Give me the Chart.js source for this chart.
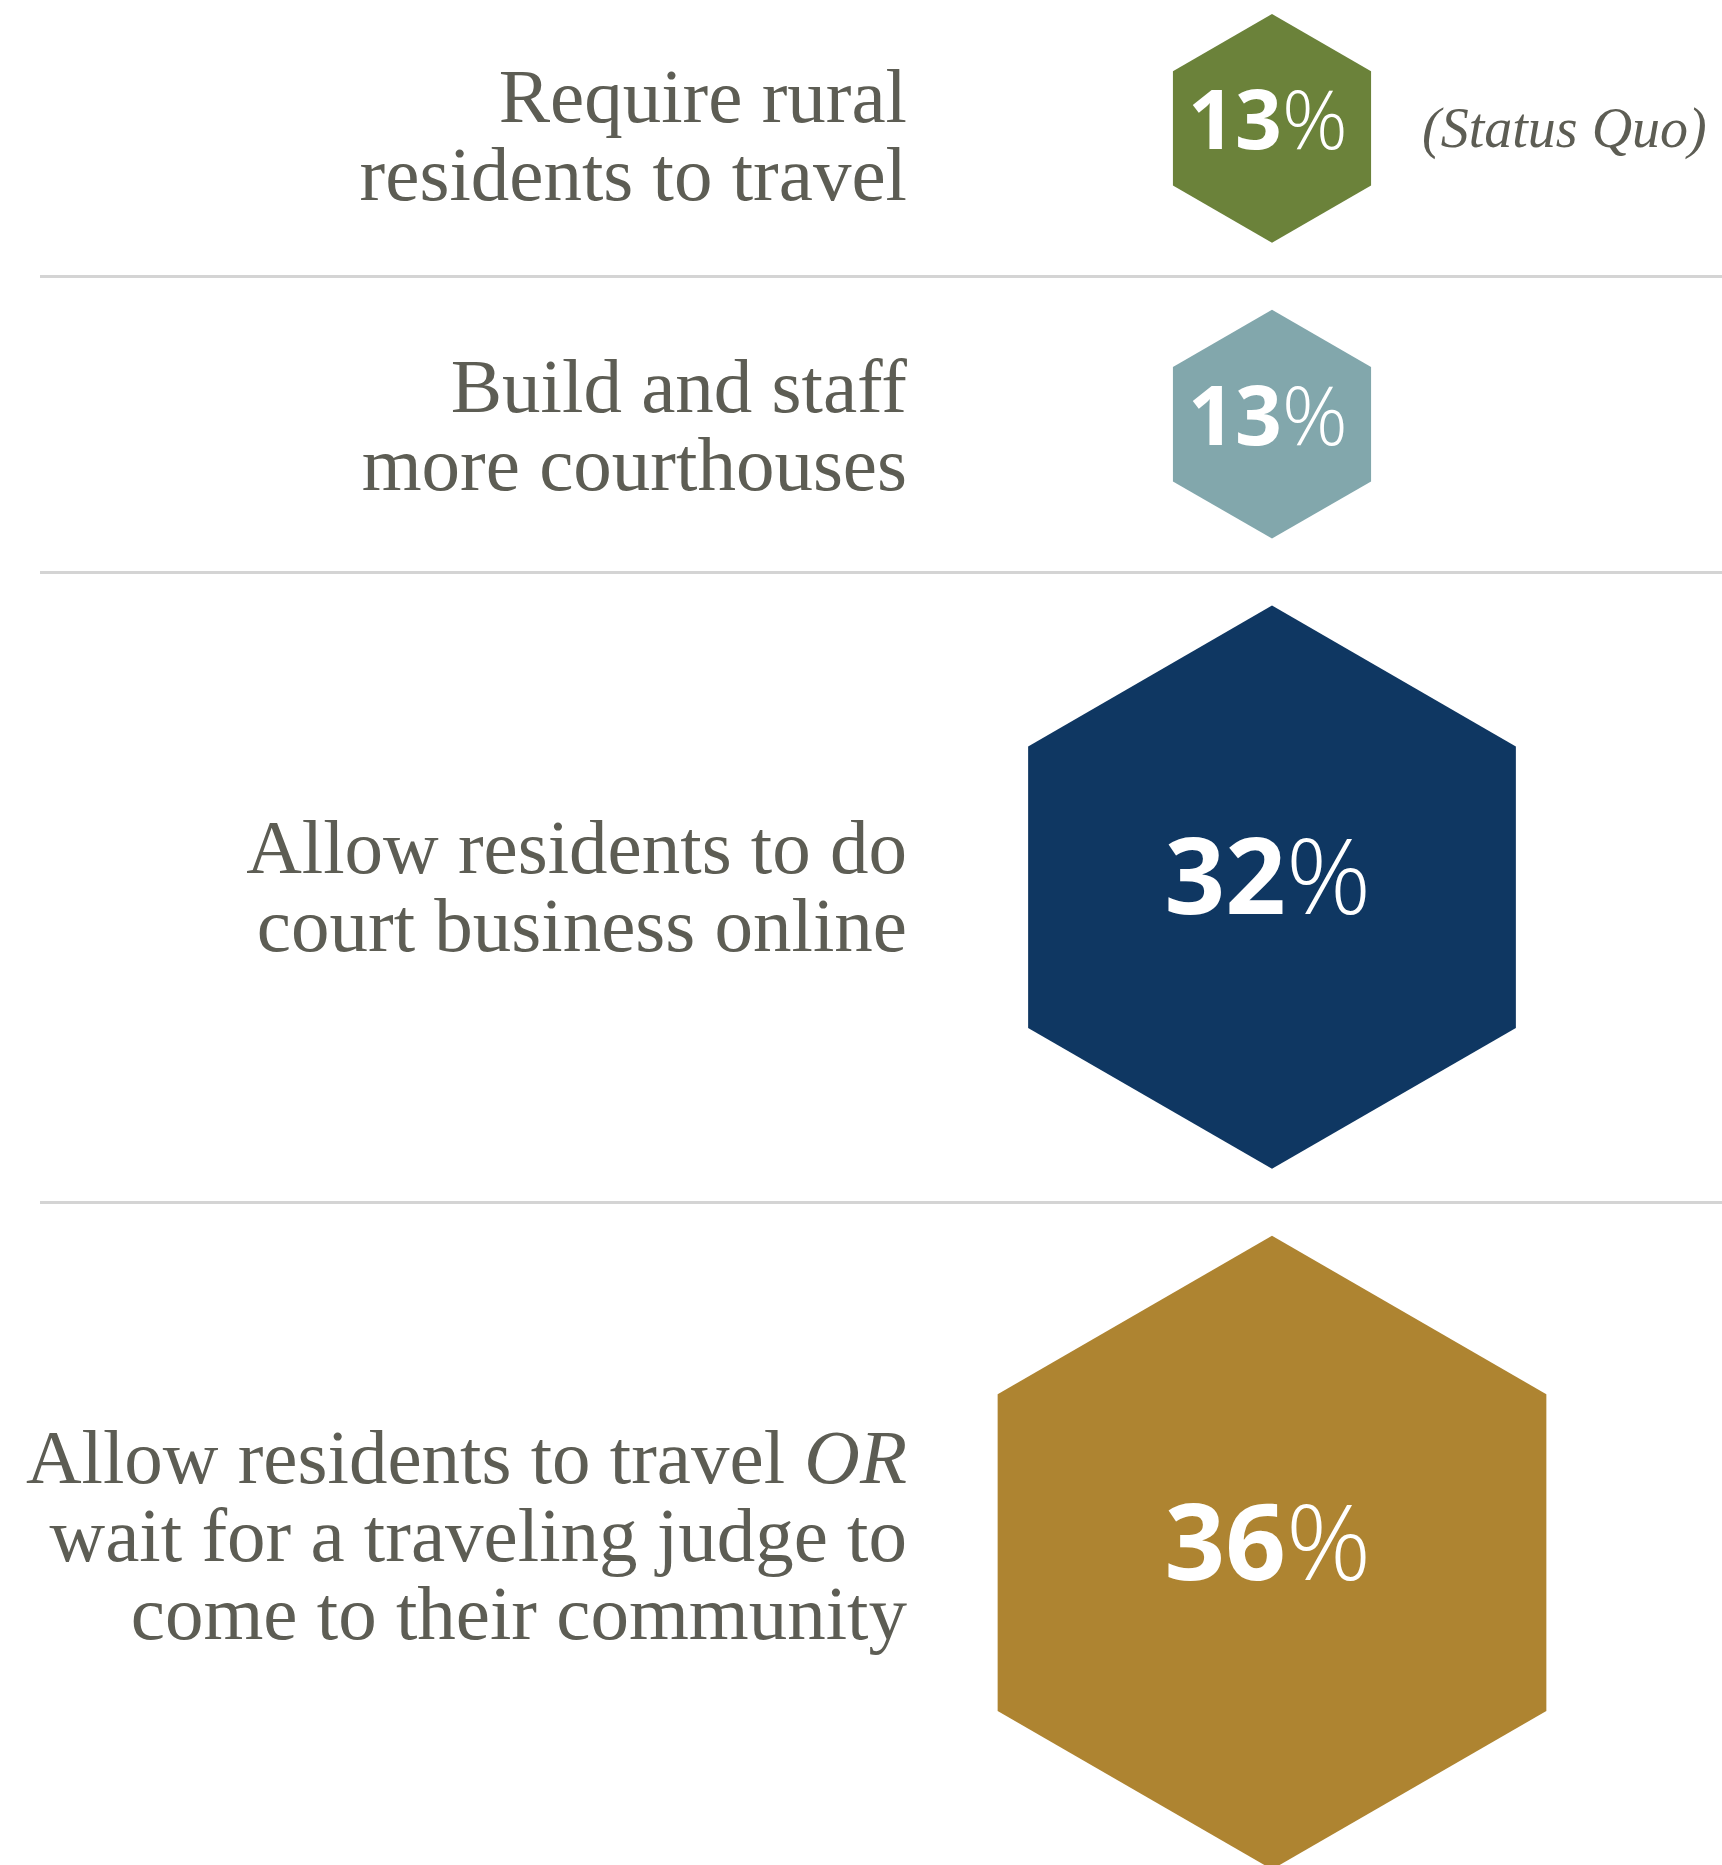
<!DOCTYPE html>
<html>
<head>
<meta charset="utf-8">
<script src="https://cdn.jsdelivr.net/npm/chart.js@4.4.1/dist/chart.umd.min.js"></script>
<style>
  html, body { margin: 0; padding: 0; background: #ffffff; }
  #wrap { width: 1722px; height: 1865px; position: relative; }
</style>
</head>
<body>
<div id="wrap"><canvas id="c"></canvas></div>
<script>
// ---- data ----
const categories = [
  ["Require rural", "residents to travel"],
  ["Build and staff", "more courthouses"],
  ["Allow residents to do", "court business online"],
  ["Allow residents to travel *OR*", "wait for a traveling judge to", "come to their community"]
];
const values = [13, 13, 32, 36];
const valueLabels = ["13%", "13%", "32%", "36%"];
const notes = ["(Status Quo)", "", "", ""];
const colors = ["#6b823a", "#82a7ac", "#0f3762", "#ae8431"];

// ---- layout / style constants ----
const PX_PER_POINT = 8.8;     // hexagon circumradius per percentage point
const FIRST_TOP = 14, GAP_ABOVE = 34, GAP_BELOW = 33;
const CANVAS_H = 1865;
const LABEL_SHIFT = [8, 2, 0, -17];   // fine vertical nudges of the label blocks
const TEXT_GRAY = "#5d5d54";
const SERIF = "'Liberation Serif', 'DejaVu Serif', serif";
const SANS = "'Open Sans', 'Noto Sans', sans-serif";

// build row layout (in px-like y units) from the values
const radii = values.map(v => v * PX_PER_POINT);
const centers = [], separators = [];
let cursor = 0;
radii.forEach((r, i) => {
  const top = cursor + (i === 0 ? FIRST_TOP : GAP_ABOVE);
  centers.push(top + r);
  cursor = top + 2 * r + GAP_BELOW;
  if (i < radii.length - 1) separators.push(cursor);
});

const hexPlugin = {
  id: 'hexPlugin',
  afterDatasetsDraw(chart) {
    const ctx = chart.ctx;
    const meta = chart.getDatasetMeta(0);
    const yScale = chart.scales.y;
    const area = chart.chartArea;
    ctx.save();
    // separators
    ctx.strokeStyle = "#d4d4d4";
    ctx.lineWidth = 3;
    separators.forEach(s => {
      const y = Math.round(yScale.getPixelForValue(s)) + 0.5;
      ctx.beginPath();
      ctx.moveTo(40, y);
      ctx.lineTo(chart.width, y);
      ctx.stroke();
    });
    meta.data.forEach((el, i) => {
      const cx = el.x, cy = el.y, r = el.options.radius;
      // hexagon
      ctx.beginPath();
      for (let k = 0; k < 6; k++) {
        const a = (-90 + 60 * k) * Math.PI / 180;
        const px = cx + r * Math.cos(a), py = cy + r * Math.sin(a);
        if (k === 0) ctx.moveTo(px, py); else ctx.lineTo(px, py);
      }
      ctx.closePath();
      ctx.fillStyle = colors[i];
      ctx.fill();

      // value text: bold number + light %
      const fs = r < 200 ? 82 : 106;
      const num = valueLabels[i].replace('%', '');
      ctx.fillStyle = "#ffffff";
      ctx.textBaseline = "middle";
      ctx.textAlign = "left";
      ctx.font = `700 ${fs}px ${SANS}`;
      const wNum = ctx.measureText(num).width;
      ctx.font = `300 ${fs}px ${SANS}`;
      const wPct = ctx.measureText('%').width;
      const startX = cx - 4 - (wNum + wPct) / 2;
      const ty = cy - 3;
      ctx.font = `700 ${fs}px ${SANS}`;
      ctx.fillText(num, startX, ty);
      ctx.font = `300 ${fs}px ${SANS}`;
      ctx.fillText('%', startX + wNum, ty);

      // note to the right
      if (notes[i]) {
        ctx.fillStyle = TEXT_GRAY;
        ctx.font = `italic 400 56px ${SERIF}`;
        ctx.textAlign = "left";
        ctx.textBaseline = "alphabetic";
        ctx.fillText(notes[i], cx + Math.sqrt(3) / 2 * r + 51, cy + 19);
      }

      // category label, right aligned
      const lines = categories[i];
      const lh = 78;
      const rightX = area.left + 85;
      const baseMid = cy + 25 + LABEL_SHIFT[i];
      ctx.textBaseline = "alphabetic";
      ctx.fillStyle = TEXT_GRAY;
      lines.forEach((line, li) => {
        const by = baseMid + (li - (lines.length - 1) / 2) * lh;
        const segs = line.split('*').map((t, si) => ({ t, it: si % 2 === 1 })).filter(s => s.t);
        const widths = segs.map(s => {
          ctx.font = `${s.it ? 'italic ' : ''}400 77px ${SERIF}`;
          return ctx.measureText(s.t).width;
        });
        let x = rightX - widths.reduce((a, b) => a + b, 0);
        segs.forEach((s, si) => {
          ctx.font = `${s.it ? 'italic ' : ''}400 77px ${SERIF}`;
          ctx.textAlign = "left";
          ctx.fillText(s.t, x, by);
          x += widths[si];
        });
      });
    });
    ctx.restore();
  }
};

new Chart(document.getElementById('c'), {
  type: 'bubble',
  data: {
    datasets: [{
      data: values.map((v, i) => ({ x: 0, y: centers[i], r: radii[i] })),
      backgroundColor: 'rgba(0,0,0,0)',
      borderWidth: 0,
      hoverRadius: 0,
      clip: false
    }]
  },
  options: {
    responsive: true,
    maintainAspectRatio: false,
    animation: false,
    events: [],
    layout: { autoPadding: false, padding: { left: 822, right: 0, top: 0, bottom: 0 } },
    plugins: { legend: { display: false }, tooltip: { enabled: false } },
    scales: {
      x: { type: 'linear', min: -1, max: 1, display: false },
      y: { type: 'linear', min: 0, max: CANVAS_H, reverse: true, display: false }
    }
  },
  plugins: [hexPlugin]
});
</script>
</body>
</html>
